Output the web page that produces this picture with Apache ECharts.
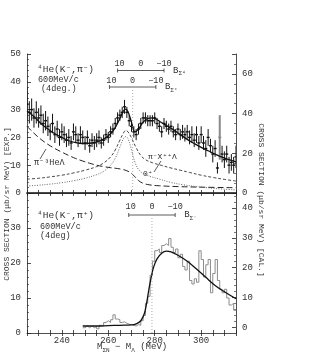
<!DOCTYPE html>
<html><head><meta charset="utf-8">
<script src="https://cdn.jsdelivr.net/npm/echarts@6/dist/echarts.min.js"></script>
<style>html,body{margin:0;padding:0;background:#fff}#c{width:316px;height:354px}</style>
</head><body><div id="c"></div>
<script>
// ---------- data ----------
const topM = [225,226,227,228,229,230,231,232,233,234,235,236,237,238,239,240,241,242,243,244,245,246,247,248,249,250,251,252,253,254,255,256,257,258,259,260,261,262,263,264,265,266,267,268,269,270,271,272,273,274,275,276,277,278,279,280,281,282,283,284,285,286,287,288,289,290,291,292,293,294,295,296,297,298,299,300,301,302,303,304,305,306,307,308,309,310,311,312,313,314,315];
const topVal = [32,29,30,27,29,27,28,25,26,24,22,25,21,23,20,22,21,19,20,18,22,21,19,21,20,18,20,17,19,18,19,20,18,19,21,20,22,23,25,27,28,29,31,29,26,24,22,21,23,25,27,27,26,26,26,27,25,24,22,25,24,23,24,22,21,23,21,22,21,22,20,21,19,21,18,21,18,16,20,17,14,16,9,20,14,12,14,10,11,10,13];
const topErr = [6,4,4,3.5,4,3.5,3.5,3.5,3.5,3.5,3,3.5,3,3,3,3,3,2.5,3,2.5,3,3,2.5,3,2.5,2.5,2.5,2.5,2.5,2.5,2.5,2.5,2,2,2,2,2,2,2,2,2,2,2.5,2,2,2,2,2,2,2,2,2,2,2,2,2,2,2,2,2,2,2,2,2,2,2,2,2.5,2.5,2.5,2.5,3,2.5,3,2.5,3,2.5,3,3,2.5,3,3,2,8,3,3,3,3,3,3,4];

const totalM   = [225,228,231,234,237,240,243,246,249,252,255,258,261,263,265,266.5,267.5,268.5,270,271.5,273,275,277,279,282,285,288,291,294,297,300,303,306,309,312,315];
const totalVal = [29.5,27.5,25,23,21.3,20,18.8,18.1,17.8,17.9,18.4,19.4,21.3,23.5,26.8,29.5,30.2,29.2,25.5,22,23,25.5,26.8,27,25.8,24.3,22.8,21,19.3,17.8,16.4,15.2,14,12.9,12,11.2];

const heM   = [225,228,231,234,237,240,243,246,249,252,255,258,261,264,266,268,270,271.5,273,275,278,282,290,300,315];
const heVal = [24,21.5,19.3,17.5,16,14.7,13.5,12.4,11.5,10.7,10,9.5,9.1,8.8,8.5,8.0,7.0,5.8,4.5,3.5,2.9,2.6,2.3,2.1,1.9];

const xppM   = [225,230,235,240,245,250,255,258,261,263,265,266.5,267.5,268.5,270,272,274,276,279,283,287,291,295,300,305,310,315];
const xppVal = [5,5.3,5.8,6.4,7.2,8.2,9.5,10.8,13,15.5,19,21.5,22.5,22,19.8,16.3,13.5,12,10.9,9.9,9,8.2,7.4,6.4,5.6,4.9,4.3];

const zpM   = [225,230,235,240,245,250,255,258,261,263,265,266.5,267.5,268.5,270,271.5,273,275,278,282,287,292,298,305,315];
const zpVal = [2.5,2.8,3.2,3.7,4.4,5.3,6.6,7.8,10,12.5,16.5,19.5,20.3,19.5,15.5,11,8.5,7,6,5,3.8,3.0,2.3,1.7,1.1];

const histEdges = [249,250,251,252,253,254,255,256,257,258,259,260,261,262,263,264,265,266,267,268,269,270,271,272,273,274,275,276,277,278,279,280,281,282,283,284,285,286,287,288,289,290,291,292,293,294,295,296,297,298,299,300,301,302,303,304,305,306,307,308,309,310,311,312,313,314,315];
const histVal = [1.5,2.0,1.5,2.0,1.5,1.8,1.2,2.2,2.0,3.0,3.5,3.0,3.8,5.2,4.0,3.8,3.0,3.2,2.8,2.5,2.4,2.2,2.0,2.4,2.2,3.5,5.0,8.5,10.5,16.5,20.5,23.5,24.0,23.0,25.0,25.5,25.0,27.0,24.5,23.0,24.0,21.5,22.5,19.0,18.0,20.5,15.0,14.0,15.5,14.5,23.5,21.0,16.0,19.5,21.0,11.5,17.0,21.0,15.0,12.5,11.5,12.5,10.0,8.0,8.5,6.5];

const calM   = [249,255,260,265,270,272,274,275.5,276.5,277.5,278.5,279.5,281,283,285,287,290,294,298,302,306,310,315];
const calVal = [2.0,2.0,2.1,2.2,2.3,2.6,3.5,5.5,8.5,12.5,16,18.8,21.2,22.8,23.4,23.2,22.2,20.5,18.3,15.9,13.6,11.8,9.8];

const xTickLabels = [240,260,280,300];
const thrTop = [274, 270.5];   // B=0 of the two upper scales
const thrBot = 278.8;          // B=0 of the lower scale

// ---------- chart ----------
const FONT = '"Liberation Mono","DejaVu Sans Mono",monospace';
const INK = '#222';
const chart = echarts.init(document.getElementById('c'), null, {renderer:'canvas'});

const zip = (a,b) => a.map((v,i)=>[v,b[i]]);
const histData = histEdges.map((e,i)=>[e, i<histVal.length ? histVal[i] : histVal[histVal.length-1]]);

const L = 27, R = 80;
const tickIn = {show:true, inside:true, length:4, lineStyle:{color:INK, width:0.8}};
const minorIn = (n)=>({show:true, splitNumber:n, length:2, lineStyle:{color:INK, width:0.6}});
const lab = {fontFamily:FONT, fontSize:9, color:'#333'};

const xBase = (gi, pos, extra)=>Object.assign({
  type:'value', gridIndex:gi, position:pos, min:225, max:315, interval:5,
  axisLine:{show:true, lineStyle:{color:INK, width:0.8}},
  axisTick:{show:true, inside:true, length:3, lineStyle:{color:INK, width:0.8}},
  axisLabel:{show:false}, splitLine:{show:false}
}, extra||{});

const option = {
  animation:false,
  backgroundColor:'#fff',
  grid:[
    {left:L, right:R, top:54, height:139},
    {left:L, right:R, top:193, height:140},
    {left:L, right:R, top:193, height:134.3}
  ],
  xAxis:[
    xBase(0,'bottom',{axisLine:{show:true, lineStyle:{color:'#111', width:1.6}}}),
    xBase(0,'top'),
    xBase(1,'bottom',{axisLabel:Object.assign({show:true, margin:3, formatter:v=>xTickLabels.includes(v)?String(v):''}, lab)}),
    xBase(1,'top',{axisLine:{show:false}}),
    xBase(2,'bottom',{show:false})
  ],
  yAxis:[
    {type:'value', gridIndex:0, position:'left', min:0, max:50, interval:10,
     axisLine:{show:true, lineStyle:{color:INK, width:0.8}}, axisTick:tickIn, minorTick:minorIn(5),
     axisLabel:Object.assign({margin:6}, lab), splitLine:{show:false}},
    {type:'value', gridIndex:0, position:'right', min:0, max:70, interval:20,
     axisLine:{show:true, lineStyle:{color:INK, width:0.8}}, axisTick:tickIn, minorTick:minorIn(4),
     axisLabel:Object.assign({margin:6, formatter:v=>v%20===0?String(v):''}, lab), splitLine:{show:false}},
    {type:'value', gridIndex:1, position:'left', min:0, max:40, interval:10,
     axisLine:{show:true, lineStyle:{color:INK, width:0.8}}, axisTick:tickIn, minorTick:minorIn(5),
     axisLabel:Object.assign({margin:6, formatter:v=>v<40?String(v):''}, lab), splitLine:{show:false}},
    {type:'value', gridIndex:1, position:'right', min:0, max:40,
     axisLine:{show:true, lineStyle:{color:INK, width:0.8}}, axisTick:{show:false},
     axisLabel:{show:false}, splitLine:{show:false}},
    {type:'value', gridIndex:2, position:'right', min:0, max:45, interval:10,
     axisLine:{show:false}, axisTick:tickIn, minorTick:minorIn(5),
     axisLabel:Object.assign({margin:6, formatter:v=>v%10===0?String(v):''}, lab), splitLine:{show:false}}
  ],
  series:[
    {type:'custom', xAxisIndex:0, yAxisIndex:0, clip:true,
     data: topM.map((m,i)=>[m, topVal[i], topErr[i]]),
     renderItem:(params, api)=>{
       const x=api.value(0), v=api.value(1), e=api.value(2);
       const lo=api.coord([x, v-e]), hi=api.coord([x, v+e]), c=api.coord([x, v]);
       const gray = e>5 && x>300;
       const col = gray ? '#888' : '#111';
       return {type:'group', children:[
         {type:'line', shape:{x1:lo[0], y1:lo[1], x2:hi[0], y2:hi[1]}, style:{stroke:col, lineWidth:gray?2:1}},
         {type:'line', shape:{x1:c[0]-1.5, y1:c[1], x2:c[0]+1.5, y2:c[1]}, style:{stroke:col, lineWidth:1.4}}
       ]};
     }},
    {type:'line', xAxisIndex:0, yAxisIndex:0, data:zip(totalM,totalVal), smooth:0.4, showSymbol:false,
     lineStyle:{color:'#111', width:1.3}},
    {type:'line', xAxisIndex:0, yAxisIndex:0, data:zip(heM,heVal), smooth:0.4, showSymbol:false,
     lineStyle:{color:'#222', width:1, type:[6,3]}},
    {type:'line', xAxisIndex:0, yAxisIndex:0, data:zip(xppM,xppVal), smooth:0.4, showSymbol:false,
     lineStyle:{color:'#333', width:0.9, type:[3,2]}},
    {type:'line', xAxisIndex:0, yAxisIndex:0, data:zip(zpM,zpVal), smooth:0.4, showSymbol:false,
     lineStyle:{color:'#555', width:0.9, type:[1,1.5]}},
    {type:'line', xAxisIndex:0, yAxisIndex:0, data:[[thrTop[1],0],[thrTop[1],37.5]], showSymbol:false,
     lineStyle:{color:'#999', width:0.8, type:[1,2]}},
    {type:'line', xAxisIndex:2, yAxisIndex:2, data:histData, step:'end', showSymbol:false,
     lineStyle:{color:'#8c8c8c', width:1}},
    {type:'line', xAxisIndex:2, yAxisIndex:2, data:zip(calM,calVal), smooth:0.4, showSymbol:false,
     lineStyle:{color:'#111', width:1.3}},
    {type:'line', xAxisIndex:2, yAxisIndex:2, data:[[thrBot,0],[thrBot,33.4]], showSymbol:false,
     lineStyle:{color:'#999', width:0.8, type:[1,2]}}
  ]
};
chart.setOption(option);

// ---------- annotations ----------
const px = m => chart.convertToPixel({xAxisIndex:0}, m);
const T = (x,y,text,opt)=>({type:'text', x:x, y:y, silent:true,
  style:Object.assign({text:text, fontFamily:FONT, fontSize:9, fill:'#333', textAlign:'left', textVerticalAlign:'middle'}, opt||{})});
const Ln = (x1,y1,x2,y2,opt)=>({type:'line', silent:true, shape:{x1,y1,x2,y2}, style:Object.assign({stroke:'#333', lineWidth:0.8}, opt||{})});

// text with subscripts: parts = [[text, isSub], ...]
function subText(x, y, parts, big, small){
  const out = []; let cx = x;
  parts.forEach(([t, sub])=>{
    const fs = sub ? small : big;
    out.push(T(cx, sub ? y+3 : y, t, {fontSize:fs}));
    cx += t.length * fs * 0.6;
  });
  return out;
}

function scaleBar(mid, yLine, yLab, sub){
  const xa = px(mid-10), x0 = px(mid), xb = px(mid+10);
  return [
    Ln(xa, yLine, xb, yLine),
    Ln(xa, yLine-2, xa, yLine+2), Ln(xb, yLine-2, xb, yLine+2),
    T(xa+2, yLab, '10', {textAlign:'center', fontSize:8.5}),
    T(x0, yLab, '0', {textAlign:'center', fontSize:8.5}),
    T(xb, yLab, '\u221210', {textAlign:'center', fontSize:8.5})
  ].concat(subText(xb+9, yLine, [['B',false],[sub,true]], 9, 6));
}

const els = [].concat(
  scaleBar(thrTop[0], 70.5, 64, '\u03A3\u2074'),
  scaleBar(thrTop[1], 87, 80.5, '\u03A3\u207A'),
  scaleBar(thrBot, 215, 207, '\u03A3\u207B'),
  subText(97, 347, [['M',false],['\u03A3N',true],[' \u2212 M',false],['\u039B',true],[' (MeV)',false]], 9, 6),
  [
    T(37, 69, '\u2074He(K\u207B,\u03C0\u207B)', {fontSize:9.5}),
    T(38, 80, '600MeV/c', {fontSize:8.5}),
    T(41, 88.5, '(4deg.)', {fontSize:8.5}),
    T(37, 215, '\u2074He(K\u207B,\u03C0\u207A)', {fontSize:9.5}),
    T(40, 227, '600MeV/c', {fontSize:8.5}),
    T(40, 236, '(4deg)', {fontSize:8.5}),
    T(34, 163, '\u03C0\u207B\u00B3He\u039B', {fontSize:8.5}),
    Ln(40, 159, 46, 149),
    T(148, 157, '\u03C0\u207BX\u207A\u207A\u039B', {fontSize:8}),
    Ln(161, 161, 154, 172),
    T(143, 174, '0\u207A', {fontSize:8}),
    {type:'text', x:7, y:204, rotation:Math.PI/2, silent:true, style:{
      text:'CROSS SECTION (\u03BCb/sr MeV) [EXP.]', fontFamily:FONT, fontSize:8, fill:'#333',
      textAlign:'center', textVerticalAlign:'middle'}},
    {type:'text', x:261, y:200, rotation:-Math.PI/2, silent:true, style:{
      text:'CROSS SECTION (\u03BCb/sr MeV) [CAL.]', fontFamily:FONT, fontSize:8, fill:'#333',
      textAlign:'center', textVerticalAlign:'middle'}}
  ]
);
chart.setOption({graphic:{elements:els}});
</script>
</body></html>
